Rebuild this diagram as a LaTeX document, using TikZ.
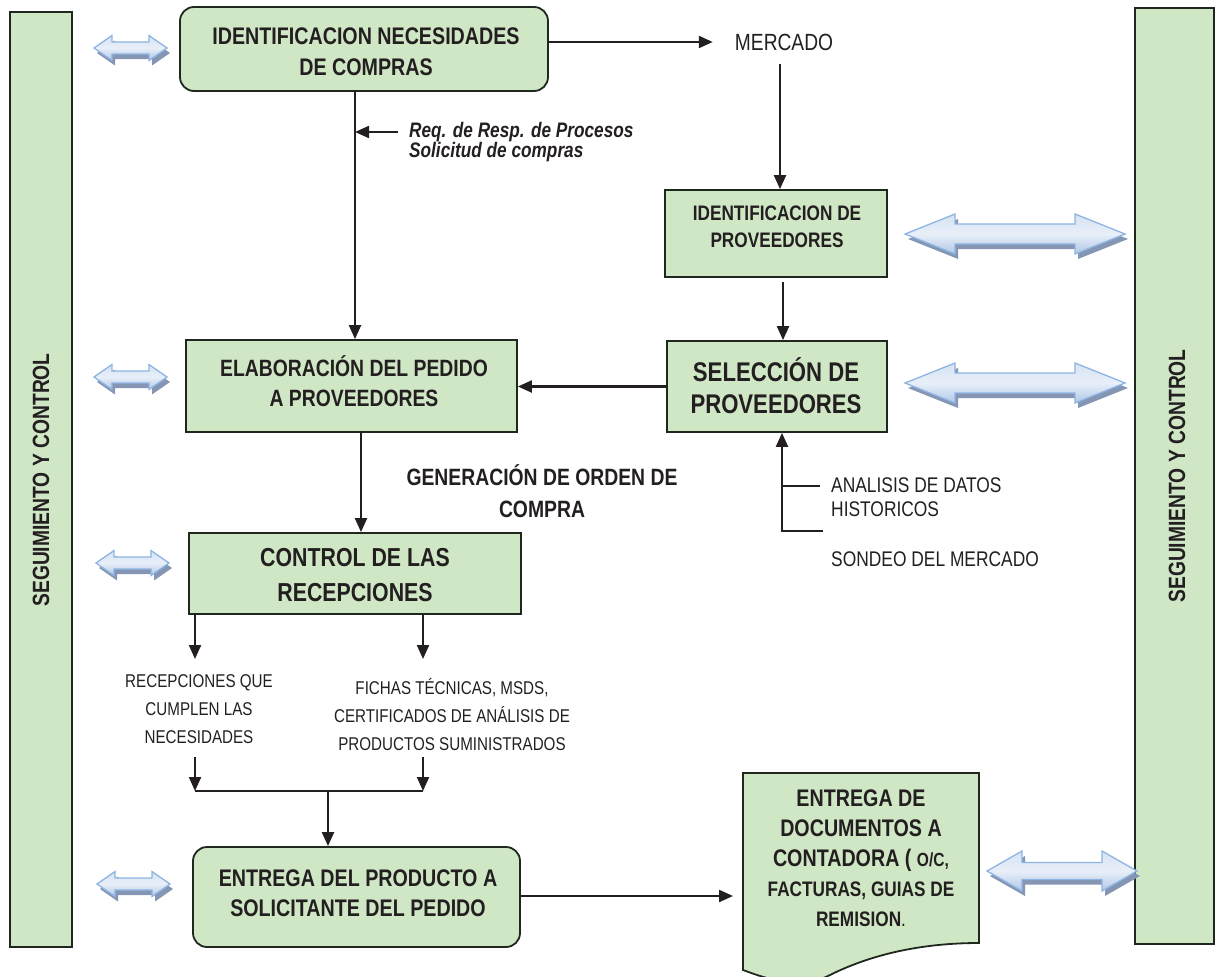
\documentclass[tikz,border=0pt]{standalone}
\usepackage{fontspec}
\setmainfont{Liberation Sans}[FakeStretch=0.82]
\usetikzlibrary{arrows.meta}

\definecolor{boxfill}{RGB}{208,231,198}
\definecolor{boxline}{RGB}{30,40,30}
\definecolor{ink}{RGB}{35,31,32}
\definecolor{arrline}{RGB}{141,180,226}
\definecolor{arrtop}{RGB}{214,227,243}
\definecolor{arrmid}{RGB}{232,239,249}
\definecolor{arrbot}{RGB}{176,199,230}
\definecolor{arrshadow}{RGB}{132,150,180}

\newcommand\fsz[2]{\fontsize{#1}{#2}\selectfont}

% two-headed block arrow: x-left, x-right, y-centre, head half-height, shaft half-height, head length
\newcommand\twoway[6]{%
  \begin{scope}[shift={(3,5)}]
    \fill[arrshadow] (#1,#3) -- (#1+#6,#3-#4) -- (#1+#6,#3-#5) -- (#2-#6,#3-#5) -- (#2-#6,#3-#4)
      -- (#2,#3) -- (#2-#6,#3+#4) -- (#2-#6,#3+#5) -- (#1+#6,#3+#5) -- (#1+#6,#3+#4) -- cycle;
  \end{scope}
  \path[draw=arrline, line width=1.3pt, line join=miter, top color=arrtop, bottom color=arrbot, middle color=arrmid]
    (#1,#3) -- (#1+#6,#3-#4) -- (#1+#6,#3-#5) -- (#2-#6,#3-#5) -- (#2-#6,#3-#4)
    -- (#2,#3) -- (#2-#6,#3+#4) -- (#2-#6,#3+#5) -- (#1+#6,#3+#5) -- (#1+#6,#3+#4) -- cycle;
}

\begin{document}
\begin{tikzpicture}[x=1pt, y=-1pt,
  box/.style={draw=boxline, fill=boxfill, line width=1.8pt, rectangle, inner sep=0pt},
  rbox/.style={box, rounded corners=14pt},
  txt/.style={inner sep=0pt, text=ink, align=center},
  arr/.style={draw=ink, line width=2.2pt, -{Triangle[length=14pt,width=12pt]}},
  ln/.style={draw=ink, line width=2.2pt}
]
\useasboundingbox (0,0) rectangle (1224,977);
\clip (0,0) rectangle (1224,977);

% side bars
\node[box, minimum width=62pt, minimum height=935pt] (barL) at (41,479.5) {};
\node[txt, rotate=90, font=\fsz{23.5}{28}\bfseries] (barLt) at (41,480) {SEGUIMIENTO Y CONTROL};
\node[box, minimum width=79pt, minimum height=936pt] (barR) at (1174.5,476) {};
\node[txt, rotate=90, font=\fsz{23.5}{28}\bfseries] (barRt) at (1177,476) {SEGUIMIENTO Y CONTROL};

% process boxes
\node[rbox, minimum width=368pt, minimum height=84pt] (b1) at (364,49) {};
\node[txt, font=\fsz{24}{31}\bfseries] (b1t) at (366,52) {IDENTIFICACION NECESIDADES\\DE COMPRAS};

\node[txt, font=\fsz{23.4}{28}] (merc) at (784,42) {MERCADO};

\node[box, minimum width=222pt, minimum height=87pt] (idp) at (776,233.5) {};
\node[txt, font=\fsz{21}{27}\bfseries] (idpt) at (777,226.5) {IDENTIFICACION DE\\PROVEEDORES};

\node[box, minimum width=220pt, minimum height=91pt] (sel) at (777,386.5) {};
\node[txt, font=\fsz{27}{32}\bfseries] (selt) at (776,386) {SELECCIÓN DE\\PROVEEDORES};

\node[box, minimum width=331pt, minimum height=92pt] (elab) at (351.5,386) {};
\node[txt, font=\fsz{23.6}{30}\bfseries] (elabt) at (354,381) {ELABORACIÓN DEL PEDIDO\\A PROVEEDORES};

\node[box, minimum width=332pt, minimum height=81pt] (ctrl) at (355,573.5) {};
\node[txt, font=\fsz{26}{35}\bfseries] (ctrlt) at (355,575.5) {CONTROL DE LAS\\RECEPCIONES};

\node[rbox, minimum width=327pt, minimum height=100pt] (entr) at (356.5,897) {};
\node[txt, font=\fsz{24}{30}\bfseries] (entrt) at (358,893) {ENTREGA DEL PRODUCTO A\\SOLICITANTE DEL PEDIDO};

% document shape with wavy bottom edge
\path[box] (743,773) -- (979,773) -- (979,943)
  .. controls (920,943) and (870,955) .. (830,975)
  .. controls (800,990) and (770,980) .. (743,970) -- cycle;
\coordinate (docw) at (743,896);
\node[txt, font=\fsz{24}{30}\bfseries] (doct) at (861,858)
  {ENTREGA DE\\DOCUMENTOS A\\CONTADORA ( {\fsz{19}{30}O/C,}\\{\fsz{21}{28}FACTURAS, GUIAS DE}\\{\fsz{21}{28}REMISION\mdseries.}};

% free text
\node[txt, anchor=west, align=left, font=\fsz{21}{20}\bfseries\itshape] (req) at (409,142)
  {Req. de Resp. de Procesos\\Solicitud de compras};
\node[txt, font=\fsz{23.6}{32}\bfseries] (gen) at (542,491) {GENERACIÓN DE ORDEN DE\\COMPRA};
\node[txt, anchor=west, align=left, font=\fsz{21.2}{24}] (anl) at (831,497) {ANALISIS DE DATOS\\HISTORICOS};
\node[txt, anchor=west, font=\fsz{21.2}{24}] (son) at (831,559) {SONDEO DEL MERCADO};
\node[txt, font=\fsz{18.5}{28}] (rec) at (199,709) {RECEPCIONES QUE\\CUMPLEN LAS\\NECESIDADES};
\node[txt, font=\fsz{18.5}{28}] (fic) at (452,715) {FICHAS TÉCNICAS, MSDS,\\CERTIFICADOS DE ANÁLISIS DE\\PRODUCTOS SUMINISTRADOS};

% connectors
\draw[arr] (b1.east |- merc) -- ([xshift=-22pt]merc.west);
\coordinate (m1) at (780,64);
\draw[arr] (m1) -- (m1 |- idp.north);
\coordinate (i1) at (783,282);
\draw[arr] (i1) -- (i1 |- sel.north);
\coordinate (v1) at (355,91);
\draw[arr] (v1) -- (v1 |- elab.north);
\coordinate (rq) at (398,132);
\draw[arr] (rq) -- (rq -| v1);
\draw[arr] (sel.west) -- (sel.west -| elab.east);

\coordinate (h1) at (820,486);
\coordinate (h2) at (823,531);
\coordinate (a1) at (782,486);
\coordinate (a2) at (782,531);
\draw[ln] (h1) -- (a1);
\draw[arr] (h2) -- (a2) -- (a2 |- sel.south);

\coordinate (v2) at (361,432);
\draw[arr] (v2) -- (v2 |- ctrl.north);

\coordinate (c1) at (195,614);
\coordinate (c2) at (423,614);
\draw[arr] (c1) -- ++(0,45);
\draw[arr] (c2) -- ++(0,45);
\coordinate (d1) at (195,757);
\coordinate (d2) at (423,757);
\draw[arr] (d1) -- ++(0,34);
\draw[arr] (d2) -- ++(0,34);
\coordinate (j1) at (195,791);
\coordinate (j2) at (423,791);
\draw[ln] (j1) -- (j2);
\coordinate (j3) at (328,791);
\draw[arr] (j3) -- (j3 |- entr.north);

\draw[arr] (entr.east |- docw) -- ([xshift=-10pt]docw);

% two-way block arrows to the monitoring bars
\twoway{94}{167}{48}{12.5}{6}{18}
\twoway{94}{167}{377}{12.5}{6}{18}
\twoway{96}{169}{563}{12.5}{6}{18}
\twoway{97}{170}{884}{12.5}{6}{18}
\twoway{905}{1125}{234}{20}{10}{50}
\twoway{905}{1125}{383}{20}{10}{50}
\twoway{987}{1137}{871}{20}{8.5}{35}
\end{tikzpicture}
\end{document}
